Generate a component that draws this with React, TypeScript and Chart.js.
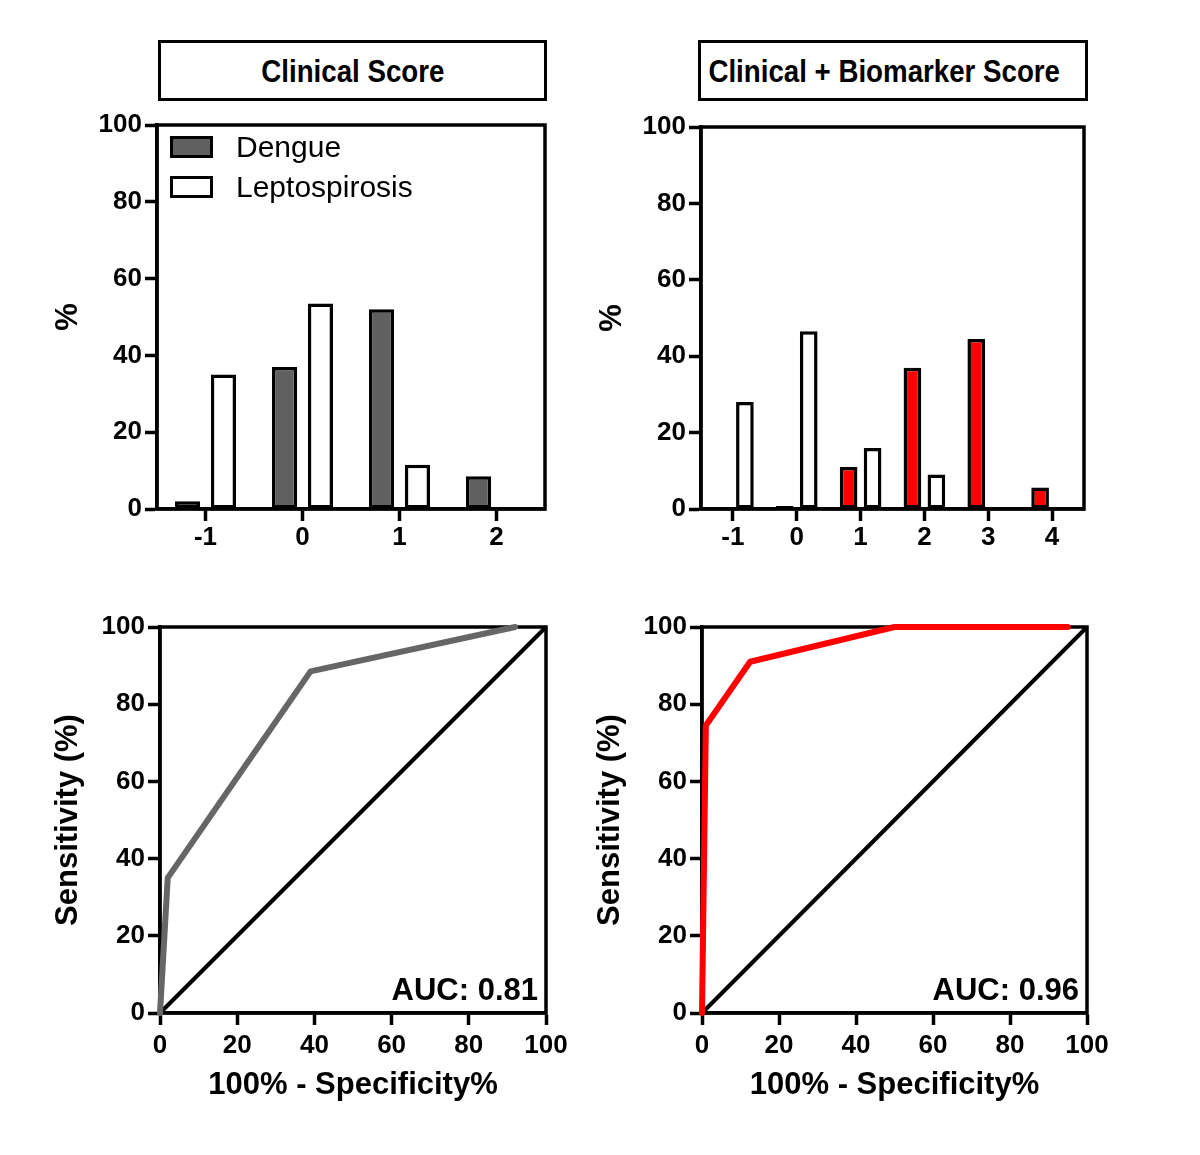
import React, { useEffect, useRef } from "react";
import { Chart, registerables } from "chart.js";

Chart.register(...registerables);

const FONT = '"Liberation Sans", Arial, Helvetica, sans-serif';

// ---------- data ----------
const clinicalCategories = ["-1", "0", "1", "2"];
const clinicalDengue = [2, 37, 52, 8.5];
const clinicalLepto = [35, 53.5, 11.5, 0];

const combinedCategories = ["-1", "0", "1", "2", "3", "4"];
const combinedDengue = [0, 0.8, 11, 37, 44.5, 5.6];
const combinedLepto = [28, 46.5, 16, 9, 0, 0];

const rocClinicalX = [0, 2, 39, 92];
const rocClinicalY = [0, 35, 88.5, 100];
const rocCombinedX = [0, 1, 12.5, 50, 95];
const rocCombinedY = [0, 74.5, 91, 100, 100];
const diagonalX = [0, 100];
const diagonalY = [0, 100];

const seriesLabels = ["Dengue", "Leptospirosis"];
const panelTitles = ["Clinical Score", "Clinical + Biomarker Score"];
const aucLabels = ["AUC: 0.81", "AUC: 0.96"];
const yTitleBars = "%";
const yTitleRoc = "Sensitivity (%)";
const xTitleRoc = "100% - Specificity%";

// ---------- geometry helpers ----------
type Geo = {
  cl: number; ct: number; cw: number; ch: number;
  l: number; r: number; t: number; b: number;
  yTitleX: number; xTitleY?: number;
};

const TITLE_SIZE = 31;
const TICK_SIZE = 26;
const LINE_W = 3.5;

function computeLayout(g: Geo) {
  const lh = TITLE_SIZE * 1.2;
  const padLeft = g.yTitleX - g.cl - lh / 2;
  const yWidth = g.l - g.cl - padLeft;
  const padRight = g.cl + g.cw - g.r;
  const padTop = g.t - g.ct;
  let padBottom = 0;
  let xHeight = g.ch - (g.b - g.ct);
  if (g.xTitleY !== undefined) {
    const scaleBottom = g.xTitleY - g.ct + lh / 2;
    padBottom = g.ch - scaleBottom;
    xHeight = scaleBottom - (g.b - g.ct);
  }
  return { padLeft, padRight, padTop, padBottom, yWidth, xHeight };
}

const framePlugin = {
  id: "frame",
  beforeDatasetsDraw(chart: any) {
    const { ctx, chartArea: a } = chart;
    ctx.save();
    ctx.lineWidth = LINE_W;
    ctx.strokeStyle = "#000";
    ctx.strokeRect(a.left, a.top, a.right - a.left, a.bottom - a.top);
    ctx.restore();
  },
};

const boxLegendPlugin = {
  id: "boxLegend",
  afterDraw(chart: any, _args: any, opts: any) {
    if (!opts || !opts.display) return;
    const { ctx, chartArea: a } = chart;
    ctx.save();
    chart.data.datasets.forEach((ds: any, i: number) => {
      const x = a.left + 13;
      const y = a.top + 11 + i * 40;
      ctx.fillStyle = ds.backgroundColor;
      ctx.fillRect(x, y, 43, 22);
      ctx.lineWidth = 3;
      ctx.strokeStyle = "#000";
      ctx.strokeRect(x + 1.5, y + 1.5, 40, 19);
      ctx.fillStyle = "#000";
      ctx.font = `30px ${FONT}`;
      ctx.textAlign = "left";
      ctx.textBaseline = "alphabetic";
      ctx.fillText(ds.label, a.left + 79, y + 21);
    });
    ctx.restore();
  },
};

const aucPlugin = {
  id: "aucText",
  afterDatasetsDraw(chart: any, _args: any, opts: any) {
    if (!opts || !opts.text) return;
    const { ctx, chartArea: a } = chart;
    ctx.save();
    ctx.fillStyle = "#000";
    ctx.font = `bold 31px ${FONT}`;
    ctx.textAlign = "right";
    ctx.textBaseline = "alphabetic";
    ctx.fillText(opts.text, a.right - 8, a.bottom - 13);
    ctx.restore();
  },
};

function tickFont() {
  return { family: FONT, size: TICK_SIZE, weight: "bold" as const };
}
function titleFont() {
  return { family: FONT, size: TITLE_SIZE, weight: "bold" as const };
}

function axisGrid() {
  return {
    display: true,
    drawOnChartArea: false,
    drawTicks: true,
    tickLength: 12,
    tickWidth: LINE_W,
    tickColor: "#000",
    offset: false,
  };
}
const axisBorder = { display: true, width: LINE_W, color: "#000" };

function barConfig(
  lay: ReturnType<typeof computeLayout>,
  labels: string[],
  dengue: number[],
  lepto: number[],
  dengueColor: string,
  catPct: number,
  barPct: number,
  withLegend: boolean
) {
  return {
    type: "bar",
    data: {
      labels,
      datasets: [
        {
          label: seriesLabels[0], data: dengue, backgroundColor: dengueColor,
          borderColor: "#000", borderWidth: 3.5, borderSkipped: false,
          categoryPercentage: catPct, barPercentage: barPct,
        },
        {
          label: seriesLabels[1], data: lepto, backgroundColor: "#ffffff",
          borderColor: "#000", borderWidth: 3.5, borderSkipped: false,
          categoryPercentage: catPct, barPercentage: barPct,
        },
      ],
    },
    options: {
      animation: false,
      responsive: false,
      events: [],
      layout: {
        autoPadding: false,
        padding: { left: lay.padLeft, right: lay.padRight, top: lay.padTop, bottom: lay.padBottom },
      },
      plugins: {
        legend: { display: false },
        tooltip: { enabled: false },
        boxLegend: { display: withLegend },
      },
      scales: {
        x: {
          type: "category",
          offset: true,
          grid: axisGrid(),
          border: axisBorder,
          ticks: { font: tickFont(), color: "#000", padding: 1, maxRotation: 0, autoSkip: false },
          afterFit: (s: any) => { s.height = lay.xHeight; },
        },
        y: {
          type: "linear",
          min: 0,
          max: 100,
          grid: axisGrid(),
          border: axisBorder,
          ticks: { stepSize: 20, font: tickFont(), color: "#000", padding: 3 },
          title: { display: true, text: yTitleBars, font: titleFont(), color: "#000", padding: 0 },
          afterFit: (s: any) => { s.width = lay.yWidth; },
        },
      },
    },
    plugins: [framePlugin, boxLegendPlugin],
  };
}

function rocConfig(
  lay: ReturnType<typeof computeLayout>,
  xs: number[],
  ys: number[],
  color: string,
  auc: string
) {
  return {
    type: "scatter",
    data: {
      datasets: [
        {
          label: "ROC",
          data: xs.map((x, i) => ({ x, y: ys[i] })),
          showLine: true,
          borderColor: color,
          backgroundColor: color,
          borderWidth: 6,
          pointRadius: 0,
          borderCapStyle: "round",
          borderJoinStyle: "round",
          clip: false,
        },
        {
          label: "Reference",
          data: diagonalX.map((x, i) => ({ x, y: diagonalY[i] })),
          showLine: true,
          borderColor: "#000",
          backgroundColor: "#000",
          borderWidth: 4,
          pointRadius: 0,
          clip: false,
        },
      ],
    },
    options: {
      animation: false,
      responsive: false,
      events: [],
      layout: {
        autoPadding: false,
        padding: { left: lay.padLeft, right: lay.padRight, top: lay.padTop, bottom: lay.padBottom },
      },
      plugins: {
        legend: { display: false },
        tooltip: { enabled: false },
        aucText: { text: auc },
      },
      scales: {
        x: {
          type: "linear",
          min: 0,
          max: 100,
          grid: axisGrid(),
          border: axisBorder,
          ticks: { stepSize: 20, font: tickFont(), color: "#000", padding: 5, maxRotation: 0 },
          title: { display: true, text: xTitleRoc, font: titleFont(), color: "#000", padding: 0 },
          afterFit: (s: any) => { s.height = lay.xHeight; },
        },
        y: {
          type: "linear",
          min: 0,
          max: 100,
          grid: axisGrid(),
          border: axisBorder,
          ticks: { stepSize: 20, font: tickFont(), color: "#000", padding: 3 },
          title: { display: true, text: yTitleRoc, font: titleFont(), color: "#000", padding: 0 },
          afterFit: (s: any) => { s.width = lay.yWidth; },
        },
      },
    },
    plugins: [framePlugin, aucPlugin],
  };
}

// ---------- components ----------
function ChartBox({ geo, build }: { geo: Geo; build: (lay: ReturnType<typeof computeLayout>) => any }) {
  const ref = useRef<HTMLCanvasElement>(null);
  useEffect(() => {
    const lay = computeLayout(geo);
    const chart = new Chart(ref.current as HTMLCanvasElement, build(lay));
    return () => chart.destroy();
  }, []);
  return (
    <canvas
      ref={ref}
      width={geo.cw}
      height={geo.ch}
      style={{ position: "absolute", left: geo.cl, top: geo.ct, width: geo.cw, height: geo.ch }}
    />
  );
}

function TitleBox({ left, width, text, shift }: { left: number; width: number; text: string; shift: number }) {
  return (
    <div
      style={{
        position: "absolute",
        left,
        top: 40,
        width,
        height: 61,
        boxSizing: "border-box",
        border: "3px solid #000",
        display: "flex",
        alignItems: "center",
        justifyContent: "center",
        background: "#fff",
      }}
    >
      <span
        style={{
          fontFamily: FONT,
          fontWeight: "bold",
          fontSize: 32,
          lineHeight: "32px",
          whiteSpace: "nowrap",
          color: "#000",
          display: "inline-block",
          transform: `translateX(${shift}px) scaleX(0.865)`,
        }}
      >
        {text}
      </span>
    </div>
  );
}

const geoTL: Geo = { cl: 0, ct: 0, cw: 600, ch: 580, l: 157, r: 545, t: 125, b: 509, yTitleX: 68 };
const geoTR: Geo = { cl: 560, ct: 0, cw: 640, ch: 580, l: 701, r: 1084, t: 127, b: 509, yTitleX: 612 };
const geoBL: Geo = { cl: 0, ct: 560, cw: 600, ch: 595, l: 160, r: 546, t: 627, b: 1013, yTitleX: 68, xTitleY: 1085 };
const geoBR: Geo = { cl: 560, ct: 560, cw: 640, ch: 595, l: 702, r: 1087, t: 627, b: 1013, yTitleX: 610, xTitleY: 1085 };

export default function App() {
  return (
    <div style={{ position: "absolute", left: 0, top: 0, width: 1200, height: 1155, background: "#fff", overflow: "hidden" }}>
      <ChartBox
        geo={geoTL}
        build={(lay) => barConfig(lay, clinicalCategories, clinicalDengue, clinicalLepto, "#606060", 0.74, 0.7, true)}
      />
      <ChartBox
        geo={geoTR}
        build={(lay) => barConfig(lay, combinedCategories, combinedDengue, combinedLepto, "#ff0000", 0.751, 0.737, false)}
      />
      <ChartBox geo={geoBL} build={(lay) => rocConfig(lay, rocClinicalX, rocClinicalY, "#666666", aucLabels[0])} />
      <ChartBox geo={geoBR} build={(lay) => rocConfig(lay, rocCombinedX, rocCombinedY, "#ff0000", aucLabels[1])} />
      <TitleBox left={158} width={389} text={panelTitles[0]} shift={0} />
      <TitleBox left={698} width={390} text={panelTitles[1]} shift={-9} />
    </div>
  );
}
